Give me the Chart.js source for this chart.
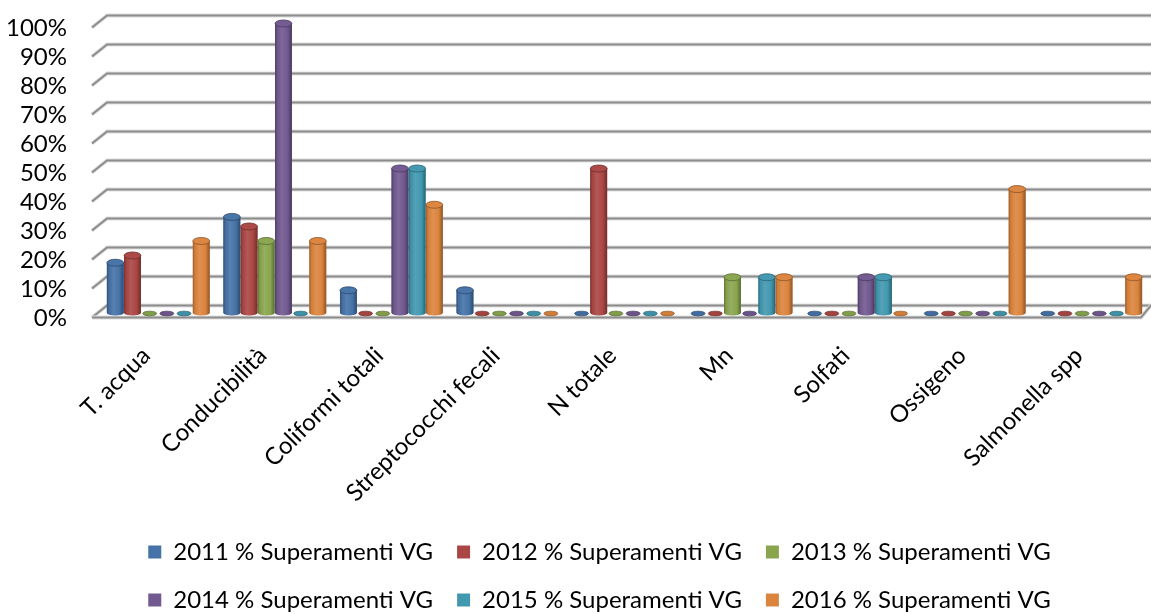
<!DOCTYPE html>
<html><head><meta charset="utf-8">
<script src="https://cdn.jsdelivr.net/npm/chart.js@4.4.1/dist/chart.umd.min.js"></script>
<style>html,body{margin:0;padding:0;background:#fff;}#wrap{width:1151px;height:614px;}</style>
</head><body><div id="wrap"><canvas id="c" width="1151" height="614"></canvas></div>
<script>
const categories = ["T. acqua", "Conducibilità", "Coliformi totali", "Streptococchi fecali", "N totale", "Mn", "Solfati", "Ossigeno", "Salmonella spp"];
const seriesNames = ["2011 % Superamenti VG", "2012 % Superamenti VG", "2013 % Superamenti VG", "2014 % Superamenti VG", "2015 % Superamenti VG", "2016 % Superamenti VG"];
const v2011 = [17.5, 33.3, 8, 8, 0, 0, 0, 0, 0];
const v2012 = [20, 30, 0, 0, 50, 0, 0, 0, 0];
const v2013 = [0, 25, 0, 0, 0, 12.5, 0, 0, 0];
const v2014 = [0, 100, 50, 0, 0, 0, 12.5, 0, 0];
const v2015 = [0, 0, 50, 0, 0, 12.5, 12.5, 0, 0];
const v2016 = [25, 25, 37.5, 0, 0, 12.5, 0, 42.9, 12.5];
const yTicks = [0, 10, 20, 30, 40, 50, 60, 70, 80, 90, 100];
const seriesColors = ["#4572A7", "#AA4643", "#89A54E", "#71588F", "#4198AF", "#DB843D"];

function shade(hex, amt) {
  const n = parseInt(hex.slice(1), 16);
  const r = n >> 16, g = (n >> 8) & 255, b = n & 255;
  const f = amt < 0 ? (x) => Math.round(x * (1 + amt)) : (x) => Math.round(x + (255 - x) * amt);
  return `rgb(${f(r)},${f(g)},${f(b)})`;
}

const grid3d = {
  id: 'grid3d',
  beforeDatasetsDraw(chart) {
    const {ctx, chartArea: {left, right}, scales: {y}} = chart;
    const W = chart.width;
    ctx.save();
    ctx.lineCap = 'butt';
    yTicks.forEach(v => {
      const yv = y.getPixelForValue(v);
      const yb = yv - 8, yf = yv + 4;
      const path = () => { ctx.beginPath(); ctx.moveTo(left - 8, yf); ctx.lineTo(left + 7, yb); ctx.lineTo(W, yb); };
      ctx.lineWidth = 4; ctx.strokeStyle = '#dedede'; path(); ctx.stroke();
      ctx.lineWidth = 2; ctx.strokeStyle = '#8c8c8c'; path(); ctx.stroke();
    });
    const y0 = y.getPixelForValue(0);
    const fp = () => { ctx.beginPath(); ctx.moveTo(left - 8, y0 + 4); ctx.lineTo(right - 8, y0 + 4); ctx.lineTo(W, y0 - 8); };
    ctx.lineWidth = 4; ctx.strokeStyle = '#dedede'; fp(); ctx.stroke();
    ctx.lineWidth = 2; ctx.strokeStyle = '#8c8c8c'; fp(); ctx.stroke();
    ctx.restore();
  }
};

const cylinders = {
  id: 'cylinders',
  afterDatasetsDraw(chart) {
    const ctx = chart.ctx;
    ctx.save();
    chart.data.datasets.forEach((ds, di) => {
      const meta = chart.getDatasetMeta(di);
      if (meta.hidden) return;
      const col = ds.backgroundColor;
      meta.data.forEach((el) => {
        const {x, y, base, width} = el.getProps(['x', 'y', 'base', 'width'], true);
        const rx = width / 2;
        const h = base - y;
        if (h < 1) {
          ctx.beginPath();
          ctx.ellipse(x, base, rx - 1.5, 2.3, 0, 0, Math.PI * 2);
          ctx.fillStyle = shade(col, -0.05);
          ctx.fill();
          ctx.lineWidth = 0.8; ctx.strokeStyle = shade(col, -0.3); ctx.stroke();
          return;
        }
        const g = ctx.createLinearGradient(x - rx, 0, x + rx, 0);
        g.addColorStop(0, shade(col, -0.3));
        g.addColorStop(0.12, shade(col, -0.05));
        g.addColorStop(0.4, shade(col, 0.1));
        g.addColorStop(0.75, col);
        g.addColorStop(1, shade(col, -0.35));
        ctx.beginPath();
        ctx.moveTo(x - rx, y);
        ctx.lineTo(x - rx, base);
        ctx.ellipse(x, base, rx, 2.5, 0, Math.PI, 0, true);
        ctx.lineTo(x + rx, y);
        ctx.closePath();
        ctx.fillStyle = g;
        ctx.fill();
        ctx.beginPath();
        ctx.ellipse(x, y, rx, 3.5, 0, 0, Math.PI * 2);
        ctx.fillStyle = shade(col, 0.02);
        ctx.fill();
        ctx.lineWidth = 0.8; ctx.strokeStyle = shade(col, -0.35); ctx.stroke();
      });
    });
    ctx.restore();
  }
};

// let the y tick labels extend into the left layout padding (no clipping)
const unclipY = {
  id: 'unclipY',
  afterLayout(chart) { chart.scales.y.left = 0; }
};

const allValues = [v2011, v2012, v2013, v2014, v2015, v2016];

function draw() {
  Chart.defaults.font.family = 'Lato';
  Chart.defaults.font.size = 24;
  Chart.defaults.color = '#000';
  new Chart(document.getElementById('c'), {
    type: 'bar',
    data: {
      labels: categories,
      datasets: seriesNames.map((name, i) => ({
        label: name,
        data: allValues[i],
        backgroundColor: seriesColors[i],
        borderWidth: 0,
        categoryPercentage: 0.885,
        barPercentage: 0.98
      }))
    },
    options: {
      responsive: false,
      devicePixelRatio: 1,
      animation: false,
      events: [],
      layout: {padding: {left: 50, right: 2, top: 23.5, bottom: -8}},
      plugins: {
        tooltip: {enabled: false},
        legend: {
          position: 'bottom',
          labels: {boxWidth: 13, boxHeight: 13, padding: 24, font: {size: 24}, color: '#000'}
        }
      },
      scales: {
        x: {
          grid: {display: false, drawTicks: false},
          border: {display: false},
          ticks: {maxRotation: 45, minRotation: 45, autoSkip: false, padding: 28, labelOffset: -12, font: {size: 24}, color: '#000'},
          afterFit(scale) { scale.height = 202.5; }
        },
        y: {
          min: 0, max: 100,
          grid: {display: true, color: 'rgba(0,0,0,0)', drawTicks: true, tickLength: 30},
          border: {display: false},
          afterFit(scale) { scale.width = 50; },
          afterBuildTicks(scale) { scale.ticks = yTicks.map(v => ({value: v})); },
          ticks: {autoSkip: false, padding: 3, labelOffset: 5, font: {size: 24}, color: '#000', callback: (v) => v + '%'}
        }
      }
    },
    plugins: [grid3d, cylinders, unclipY]
  });
}
if (document.fonts && document.fonts.load) {
  document.fonts.load('24px Lato').then(draw, draw);
} else { draw(); }
</script>
</body></html>
